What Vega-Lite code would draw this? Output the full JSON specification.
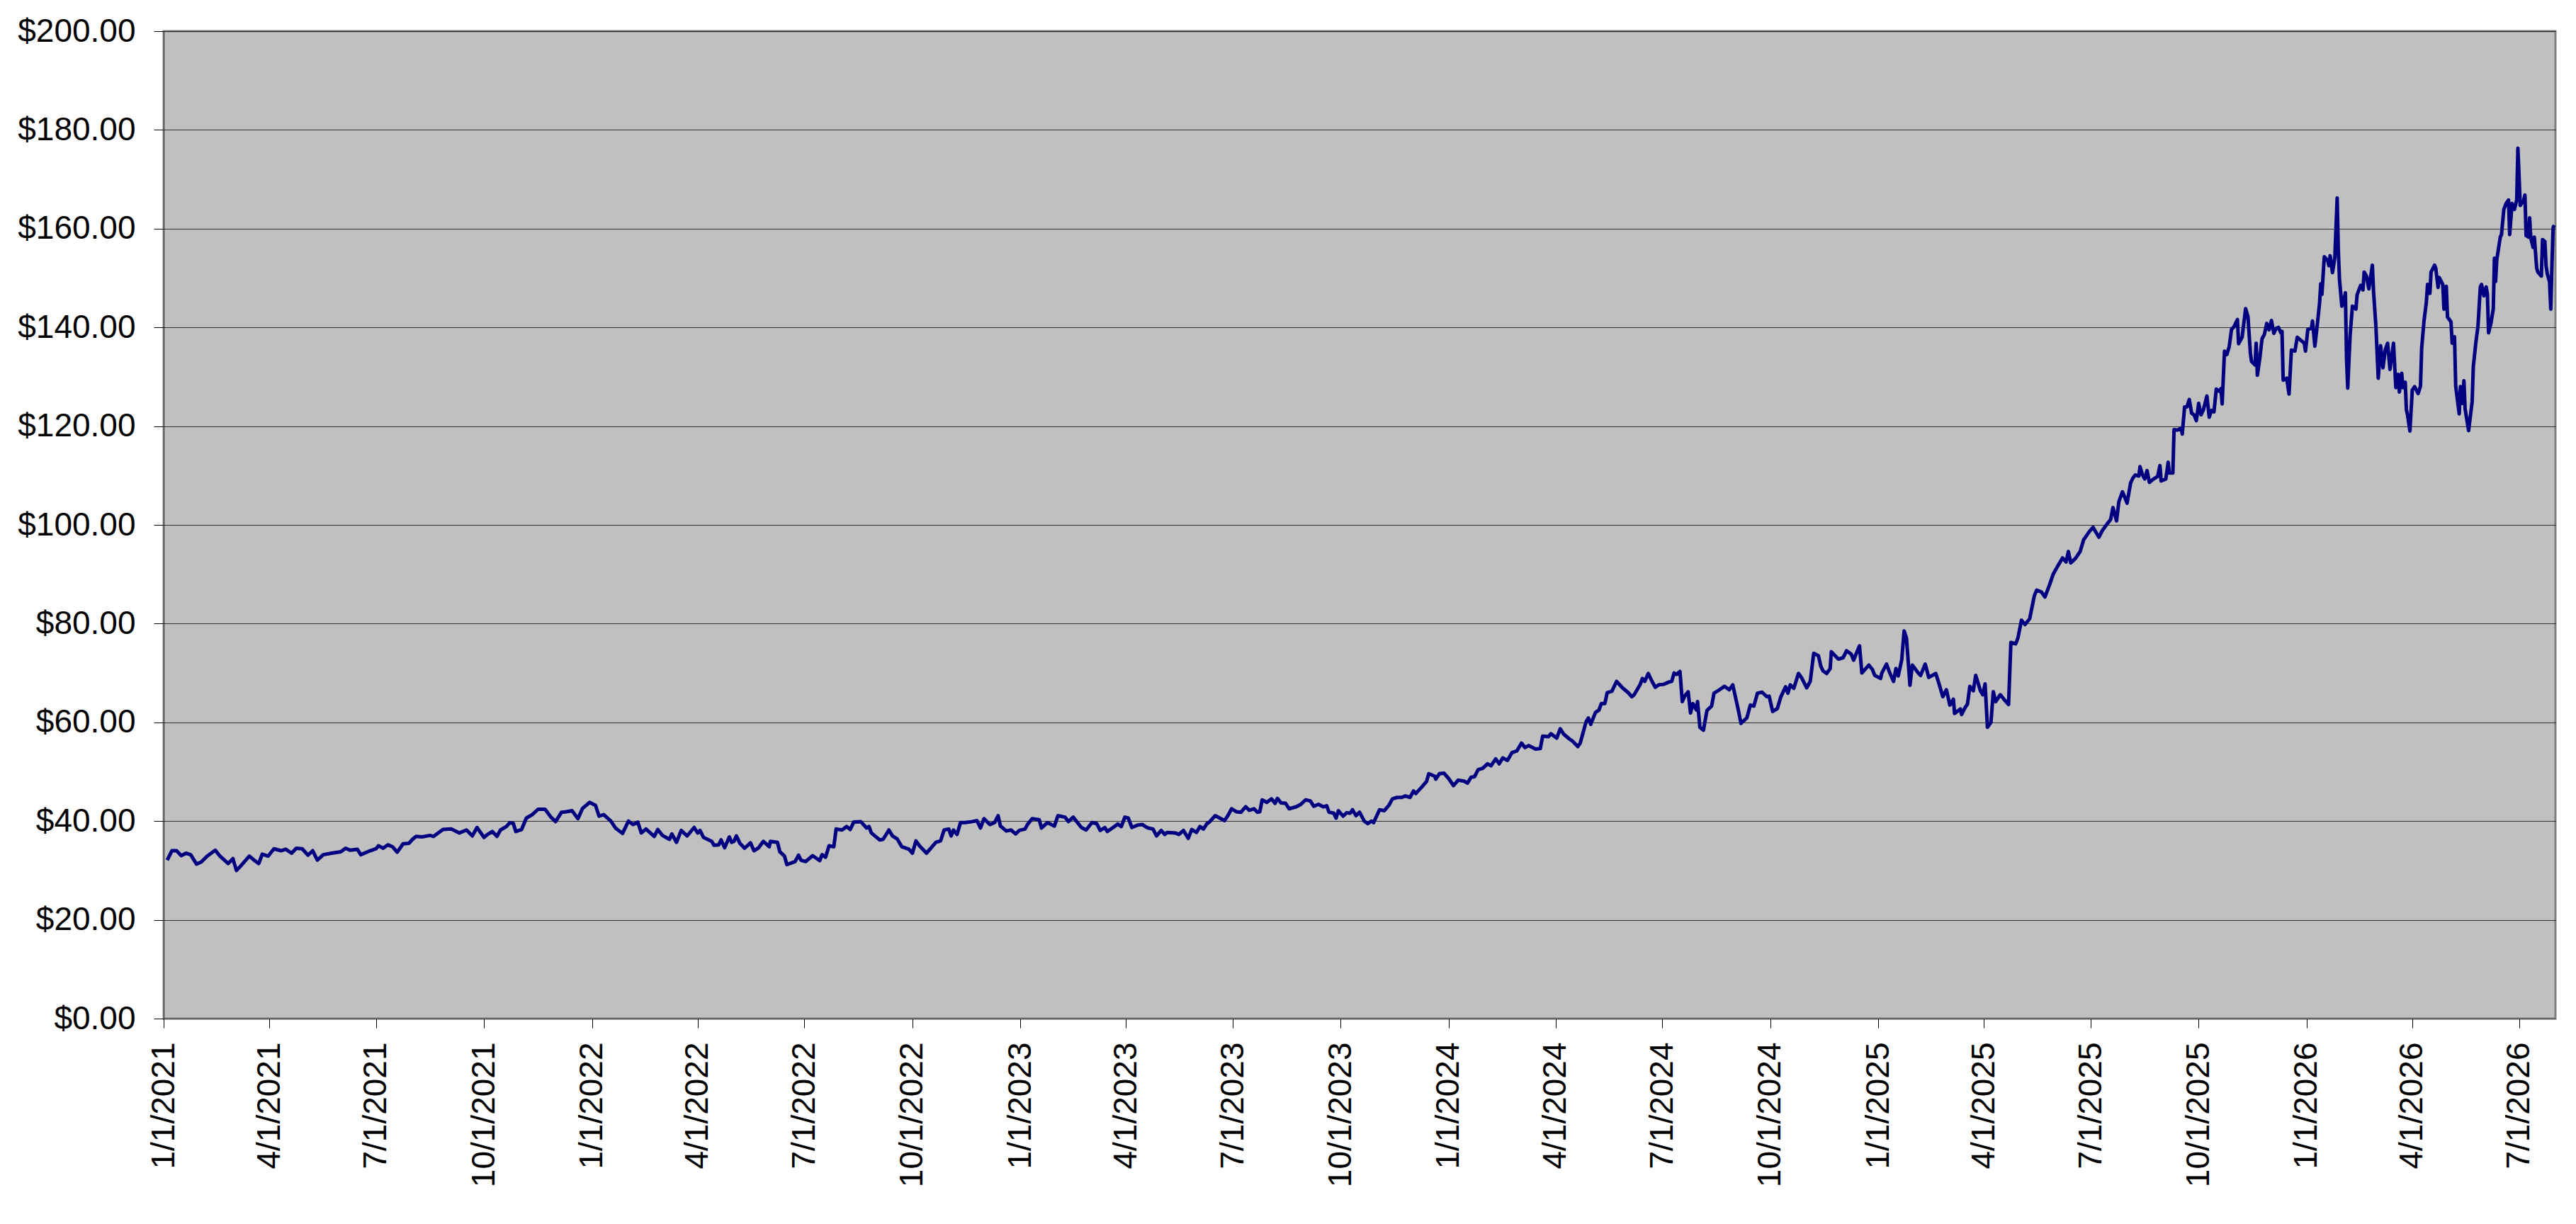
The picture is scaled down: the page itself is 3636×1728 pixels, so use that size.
{
  "$schema": "https://vega.github.io/schema/vega-lite/v6.json",
  "width": 3376,
  "height": 1394,
  "autosize": {"type": "none"},
  "padding": {"left": 231, "top": 44, "right": 29, "bottom": 290},
  "background": "white",
  "config": {
    "font": "Liberation Sans",
    "view": {"fill": "#c0c0c0", "stroke": "#808080", "strokeWidth": 3}
  },
  "data": {
    "values": [
      {"date": "2021-01-04", "price": 32.1}, {"date": "2021-01-08", "price": 34.0}, {"date": "2021-01-12", "price": 34.0},
      {"date": "2021-01-16", "price": 33.0}, {"date": "2021-01-20", "price": 33.5}, {"date": "2021-01-24", "price": 33.2},
      {"date": "2021-01-29", "price": 31.3}, {"date": "2021-02-02", "price": 31.7}, {"date": "2021-02-07", "price": 32.9},
      {"date": "2021-02-14", "price": 34.1}, {"date": "2021-02-18", "price": 32.9}, {"date": "2021-02-25", "price": 31.4},
      {"date": "2021-03-01", "price": 32.4}, {"date": "2021-03-04", "price": 30.0}, {"date": "2021-03-08", "price": 31.0},
      {"date": "2021-03-15", "price": 32.9}, {"date": "2021-03-19", "price": 32.1}, {"date": "2021-03-23", "price": 31.4},
      {"date": "2021-03-26", "price": 33.3}, {"date": "2021-03-31", "price": 32.9}, {"date": "2021-04-05", "price": 34.4},
      {"date": "2021-04-11", "price": 34.0}, {"date": "2021-04-15", "price": 34.3}, {"date": "2021-04-20", "price": 33.5},
      {"date": "2021-04-24", "price": 34.5}, {"date": "2021-04-29", "price": 34.4}, {"date": "2021-05-04", "price": 33.1},
      {"date": "2021-05-08", "price": 34.0}, {"date": "2021-05-12", "price": 32.1}, {"date": "2021-05-17", "price": 33.2},
      {"date": "2021-05-24", "price": 33.5}, {"date": "2021-06-01", "price": 33.8}, {"date": "2021-06-05", "price": 34.5},
      {"date": "2021-06-09", "price": 34.1}, {"date": "2021-06-15", "price": 34.3}, {"date": "2021-06-18", "price": 33.2},
      {"date": "2021-06-26", "price": 34.0}, {"date": "2021-07-01", "price": 34.4}, {"date": "2021-07-03", "price": 35.0},
      {"date": "2021-07-07", "price": 34.5}, {"date": "2021-07-11", "price": 35.2}, {"date": "2021-07-15", "price": 34.8},
      {"date": "2021-07-19", "price": 33.7}, {"date": "2021-07-24", "price": 35.4}, {"date": "2021-07-29", "price": 35.5},
      {"date": "2021-08-01", "price": 36.3}, {"date": "2021-08-04", "price": 36.9}, {"date": "2021-08-09", "price": 36.8},
      {"date": "2021-08-16", "price": 37.1}, {"date": "2021-08-19", "price": 36.9}, {"date": "2021-08-27", "price": 38.3},
      {"date": "2021-09-03", "price": 38.4}, {"date": "2021-09-10", "price": 37.6}, {"date": "2021-09-16", "price": 38.2},
      {"date": "2021-09-21", "price": 37.0}, {"date": "2021-09-25", "price": 38.7}, {"date": "2021-10-01", "price": 36.7},
      {"date": "2021-10-04", "price": 37.3}, {"date": "2021-10-08", "price": 37.9}, {"date": "2021-10-12", "price": 36.9},
      {"date": "2021-10-15", "price": 38.2}, {"date": "2021-10-20", "price": 38.9}, {"date": "2021-10-23", "price": 39.7},
      {"date": "2021-10-26", "price": 39.5}, {"date": "2021-10-28", "price": 37.9}, {"date": "2021-11-02", "price": 38.3},
      {"date": "2021-11-06", "price": 40.6}, {"date": "2021-11-11", "price": 41.3}, {"date": "2021-11-16", "price": 42.4},
      {"date": "2021-11-22", "price": 42.4}, {"date": "2021-11-27", "price": 40.8}, {"date": "2021-12-01", "price": 39.9},
      {"date": "2021-12-06", "price": 41.8}, {"date": "2021-12-10", "price": 41.9}, {"date": "2021-12-15", "price": 42.1},
      {"date": "2021-12-20", "price": 40.5}, {"date": "2021-12-24", "price": 42.6}, {"date": "2021-12-30", "price": 43.8},
      {"date": "2022-01-04", "price": 43.2}, {"date": "2022-01-07", "price": 41.0}, {"date": "2022-01-11", "price": 41.3},
      {"date": "2022-01-17", "price": 40.0}, {"date": "2022-01-21", "price": 38.6}, {"date": "2022-01-27", "price": 37.5},
      {"date": "2022-02-01", "price": 40.0}, {"date": "2022-02-05", "price": 39.3}, {"date": "2022-02-09", "price": 39.8},
      {"date": "2022-02-12", "price": 37.6}, {"date": "2022-02-16", "price": 38.4}, {"date": "2022-02-23", "price": 36.9},
      {"date": "2022-02-26", "price": 38.3}, {"date": "2022-03-02", "price": 37.1}, {"date": "2022-03-08", "price": 36.3},
      {"date": "2022-03-10", "price": 37.4}, {"date": "2022-03-14", "price": 35.7}, {"date": "2022-03-18", "price": 38.1},
      {"date": "2022-03-23", "price": 37.0}, {"date": "2022-03-29", "price": 38.7}, {"date": "2022-04-01", "price": 37.6},
      {"date": "2022-04-03", "price": 38.1}, {"date": "2022-04-06", "price": 36.7}, {"date": "2022-04-13", "price": 35.9},
      {"date": "2022-04-15", "price": 35.1}, {"date": "2022-04-19", "price": 35.2}, {"date": "2022-04-21", "price": 36.2},
      {"date": "2022-04-24", "price": 34.6}, {"date": "2022-04-28", "price": 36.8}, {"date": "2022-04-30", "price": 35.7},
      {"date": "2022-05-02", "price": 35.9}, {"date": "2022-05-04", "price": 37.0}, {"date": "2022-05-07", "price": 35.5},
      {"date": "2022-05-11", "price": 34.5}, {"date": "2022-05-16", "price": 35.6}, {"date": "2022-05-19", "price": 34.0},
      {"date": "2022-05-23", "price": 34.6}, {"date": "2022-05-27", "price": 35.9}, {"date": "2022-06-01", "price": 34.8},
      {"date": "2022-06-02", "price": 35.9}, {"date": "2022-06-08", "price": 35.7}, {"date": "2022-06-10", "price": 33.8},
      {"date": "2022-06-14", "price": 32.9}, {"date": "2022-06-16", "price": 31.2}, {"date": "2022-06-23", "price": 31.8},
      {"date": "2022-06-26", "price": 33.1}, {"date": "2022-06-28", "price": 32.1}, {"date": "2022-07-02", "price": 31.8},
      {"date": "2022-07-08", "price": 33.0}, {"date": "2022-07-14", "price": 32.0}, {"date": "2022-07-16", "price": 33.2},
      {"date": "2022-07-19", "price": 32.7}, {"date": "2022-07-22", "price": 35.0}, {"date": "2022-07-26", "price": 34.8},
      {"date": "2022-07-28", "price": 38.4}, {"date": "2022-08-02", "price": 38.2}, {"date": "2022-08-06", "price": 38.9},
      {"date": "2022-08-09", "price": 38.3}, {"date": "2022-08-12", "price": 39.8}, {"date": "2022-08-18", "price": 39.9},
      {"date": "2022-08-23", "price": 38.6}, {"date": "2022-08-25", "price": 38.9}, {"date": "2022-08-27", "price": 37.6},
      {"date": "2022-09-03", "price": 36.2}, {"date": "2022-09-06", "price": 36.3}, {"date": "2022-09-11", "price": 38.2},
      {"date": "2022-09-14", "price": 37.0}, {"date": "2022-09-18", "price": 36.4}, {"date": "2022-09-22", "price": 34.8},
      {"date": "2022-09-28", "price": 34.3}, {"date": "2022-10-01", "price": 33.5}, {"date": "2022-10-04", "price": 36.0},
      {"date": "2022-10-07", "price": 35.0}, {"date": "2022-10-13", "price": 33.5}, {"date": "2022-10-21", "price": 35.7},
      {"date": "2022-10-25", "price": 36.0}, {"date": "2022-10-28", "price": 38.2}, {"date": "2022-11-01", "price": 38.4},
      {"date": "2022-11-03", "price": 37.0}, {"date": "2022-11-05", "price": 38.2}, {"date": "2022-11-08", "price": 37.3},
      {"date": "2022-11-11", "price": 39.7}, {"date": "2022-11-15", "price": 39.7}, {"date": "2022-11-21", "price": 39.9},
      {"date": "2022-11-25", "price": 40.1}, {"date": "2022-11-28", "price": 38.6}, {"date": "2022-12-01", "price": 40.5},
      {"date": "2022-12-06", "price": 39.3}, {"date": "2022-12-10", "price": 39.7}, {"date": "2022-12-13", "price": 41.1},
      {"date": "2022-12-15", "price": 39.0}, {"date": "2022-12-20", "price": 38.0}, {"date": "2022-12-24", "price": 38.2},
      {"date": "2022-12-28", "price": 37.4}, {"date": "2022-12-31", "price": 38.1}, {"date": "2023-01-05", "price": 38.4},
      {"date": "2023-01-07", "price": 39.3}, {"date": "2023-01-11", "price": 40.5}, {"date": "2023-01-17", "price": 40.3},
      {"date": "2023-01-19", "price": 38.6}, {"date": "2023-01-24", "price": 39.7}, {"date": "2023-01-30", "price": 39.0},
      {"date": "2023-02-02", "price": 41.1}, {"date": "2023-02-08", "price": 40.8}, {"date": "2023-02-11", "price": 39.9},
      {"date": "2023-02-15", "price": 40.8}, {"date": "2023-02-22", "price": 38.7}, {"date": "2023-02-26", "price": 38.2},
      {"date": "2023-03-03", "price": 39.7}, {"date": "2023-03-07", "price": 39.5}, {"date": "2023-03-10", "price": 38.1},
      {"date": "2023-03-14", "price": 38.7}, {"date": "2023-03-16", "price": 37.9}, {"date": "2023-03-21", "price": 38.7},
      {"date": "2023-03-25", "price": 39.4}, {"date": "2023-03-28", "price": 38.9}, {"date": "2023-03-31", "price": 40.8},
      {"date": "2023-04-03", "price": 40.6}, {"date": "2023-04-06", "price": 38.7}, {"date": "2023-04-11", "price": 39.2},
      {"date": "2023-04-15", "price": 39.3}, {"date": "2023-04-19", "price": 38.7}, {"date": "2023-04-20", "price": 38.6},
      {"date": "2023-04-24", "price": 38.4}, {"date": "2023-04-27", "price": 37.0}, {"date": "2023-05-01", "price": 38.1},
      {"date": "2023-05-04", "price": 37.3}, {"date": "2023-05-06", "price": 37.7}, {"date": "2023-05-13", "price": 37.6},
      {"date": "2023-05-16", "price": 37.3}, {"date": "2023-05-20", "price": 38.1}, {"date": "2023-05-24", "price": 36.5},
      {"date": "2023-05-27", "price": 38.3}, {"date": "2023-05-31", "price": 37.7}, {"date": "2023-06-03", "price": 38.9},
      {"date": "2023-06-06", "price": 38.4}, {"date": "2023-06-09", "price": 39.5}, {"date": "2023-06-11", "price": 39.8},
      {"date": "2023-06-16", "price": 41.1}, {"date": "2023-06-20", "price": 40.6}, {"date": "2023-06-24", "price": 40.1},
      {"date": "2023-06-27", "price": 41.2}, {"date": "2023-06-30", "price": 42.5}, {"date": "2023-07-04", "price": 41.9},
      {"date": "2023-07-08", "price": 41.8}, {"date": "2023-07-12", "price": 42.9}, {"date": "2023-07-15", "price": 42.2},
      {"date": "2023-07-19", "price": 42.5}, {"date": "2023-07-22", "price": 41.8}, {"date": "2023-07-24", "price": 41.9},
      {"date": "2023-07-26", "price": 44.3}, {"date": "2023-07-30", "price": 43.8}, {"date": "2023-08-03", "price": 44.5},
      {"date": "2023-08-06", "price": 43.6}, {"date": "2023-08-08", "price": 44.6}, {"date": "2023-08-11", "price": 43.7},
      {"date": "2023-08-15", "price": 43.6}, {"date": "2023-08-18", "price": 42.5}, {"date": "2023-08-24", "price": 42.9},
      {"date": "2023-08-28", "price": 43.4}, {"date": "2023-09-01", "price": 44.3}, {"date": "2023-09-05", "price": 44.1},
      {"date": "2023-09-08", "price": 43.0}, {"date": "2023-09-12", "price": 43.4}, {"date": "2023-09-16", "price": 42.9},
      {"date": "2023-09-19", "price": 43.1}, {"date": "2023-09-21", "price": 41.8}, {"date": "2023-09-25", "price": 41.6},
      {"date": "2023-09-27", "price": 40.6}, {"date": "2023-09-29", "price": 42.1}, {"date": "2023-10-03", "price": 41.0},
      {"date": "2023-10-06", "price": 41.7}, {"date": "2023-10-09", "price": 41.6}, {"date": "2023-10-11", "price": 42.3},
      {"date": "2023-10-14", "price": 41.1}, {"date": "2023-10-17", "price": 41.8}, {"date": "2023-10-21", "price": 40.0},
      {"date": "2023-10-24", "price": 39.5}, {"date": "2023-10-27", "price": 40.0}, {"date": "2023-10-29", "price": 39.7},
      {"date": "2023-11-03", "price": 42.3}, {"date": "2023-11-07", "price": 42.1}, {"date": "2023-11-11", "price": 43.2},
      {"date": "2023-11-14", "price": 44.5}, {"date": "2023-11-18", "price": 44.8}, {"date": "2023-11-22", "price": 44.8},
      {"date": "2023-11-25", "price": 45.1}, {"date": "2023-11-29", "price": 44.8}, {"date": "2023-12-02", "price": 46.1},
      {"date": "2023-12-04", "price": 45.6}, {"date": "2023-12-09", "price": 46.9}, {"date": "2023-12-13", "price": 48.0},
      {"date": "2023-12-15", "price": 49.6}, {"date": "2023-12-20", "price": 49.1}, {"date": "2023-12-21", "price": 48.5},
      {"date": "2023-12-24", "price": 49.6}, {"date": "2023-12-28", "price": 49.7}, {"date": "2024-01-01", "price": 48.6},
      {"date": "2024-01-05", "price": 47.2}, {"date": "2024-01-09", "price": 48.3}, {"date": "2024-01-14", "price": 48.1},
      {"date": "2024-01-17", "price": 47.7}, {"date": "2024-01-20", "price": 48.9}, {"date": "2024-01-23", "price": 49.0},
      {"date": "2024-01-26", "price": 50.4}, {"date": "2024-01-30", "price": 50.7}, {"date": "2024-02-03", "price": 51.6},
      {"date": "2024-02-06", "price": 51.2}, {"date": "2024-02-10", "price": 52.6}, {"date": "2024-02-13", "price": 51.6},
      {"date": "2024-02-16", "price": 52.8}, {"date": "2024-02-20", "price": 52.3}, {"date": "2024-02-24", "price": 53.9},
      {"date": "2024-02-28", "price": 54.2}, {"date": "2024-03-03", "price": 55.8}, {"date": "2024-03-06", "price": 54.9},
      {"date": "2024-03-09", "price": 55.3}, {"date": "2024-03-15", "price": 54.6}, {"date": "2024-03-19", "price": 54.7},
      {"date": "2024-03-21", "price": 57.2}, {"date": "2024-03-26", "price": 57.1}, {"date": "2024-03-28", "price": 57.7},
      {"date": "2024-04-02", "price": 56.8}, {"date": "2024-04-05", "price": 58.7}, {"date": "2024-04-08", "price": 57.6},
      {"date": "2024-04-13", "price": 56.6}, {"date": "2024-04-15", "price": 56.3}, {"date": "2024-04-20", "price": 55.1},
      {"date": "2024-04-22", "price": 55.8}, {"date": "2024-04-27", "price": 60.1}, {"date": "2024-04-29", "price": 60.9},
      {"date": "2024-05-01", "price": 59.6}, {"date": "2024-05-05", "price": 62.0}, {"date": "2024-05-08", "price": 62.5},
      {"date": "2024-05-10", "price": 63.8}, {"date": "2024-05-13", "price": 63.8}, {"date": "2024-05-15", "price": 66.0},
      {"date": "2024-05-19", "price": 66.3}, {"date": "2024-05-23", "price": 68.3}, {"date": "2024-05-28", "price": 67.0},
      {"date": "2024-06-02", "price": 66.0}, {"date": "2024-06-05", "price": 65.2}, {"date": "2024-06-07", "price": 65.6},
      {"date": "2024-06-12", "price": 67.6}, {"date": "2024-06-14", "price": 68.9}, {"date": "2024-06-16", "price": 68.3},
      {"date": "2024-06-19", "price": 69.9}, {"date": "2024-06-22", "price": 68.4}, {"date": "2024-06-25", "price": 67.1},
      {"date": "2024-06-28", "price": 67.6}, {"date": "2024-07-02", "price": 67.7}, {"date": "2024-07-07", "price": 68.2},
      {"date": "2024-07-09", "price": 68.3}, {"date": "2024-07-11", "price": 70.0}, {"date": "2024-07-13", "price": 69.7},
      {"date": "2024-07-16", "price": 70.3}, {"date": "2024-07-18", "price": 64.2}, {"date": "2024-07-20", "price": 65.3},
      {"date": "2024-07-23", "price": 66.2}, {"date": "2024-07-25", "price": 61.9}, {"date": "2024-07-27", "price": 63.8},
      {"date": "2024-07-30", "price": 62.5}, {"date": "2024-07-31", "price": 64.2}, {"date": "2024-08-02", "price": 59.0},
      {"date": "2024-08-05", "price": 58.4}, {"date": "2024-08-08", "price": 62.4}, {"date": "2024-08-12", "price": 63.3},
      {"date": "2024-08-14", "price": 65.9}, {"date": "2024-08-18", "price": 66.5}, {"date": "2024-08-23", "price": 67.3},
      {"date": "2024-08-27", "price": 66.6}, {"date": "2024-08-30", "price": 67.6}, {"date": "2024-09-04", "price": 62.2},
      {"date": "2024-09-06", "price": 59.8}, {"date": "2024-09-11", "price": 60.9}, {"date": "2024-09-14", "price": 63.5},
      {"date": "2024-09-17", "price": 63.3}, {"date": "2024-09-20", "price": 65.9}, {"date": "2024-09-24", "price": 66.1},
      {"date": "2024-09-28", "price": 65.2}, {"date": "2024-09-30", "price": 65.3}, {"date": "2024-10-03", "price": 62.2},
      {"date": "2024-10-07", "price": 62.8}, {"date": "2024-10-10", "price": 65.2}, {"date": "2024-10-14", "price": 67.2},
      {"date": "2024-10-16", "price": 65.9}, {"date": "2024-10-18", "price": 67.6}, {"date": "2024-10-21", "price": 66.9},
      {"date": "2024-10-25", "price": 69.9}, {"date": "2024-10-28", "price": 68.9}, {"date": "2024-11-01", "price": 67.0},
      {"date": "2024-11-04", "price": 68.3}, {"date": "2024-11-07", "price": 74.0}, {"date": "2024-11-11", "price": 73.5},
      {"date": "2024-11-13", "price": 71.4}, {"date": "2024-11-15", "price": 70.4}, {"date": "2024-11-18", "price": 69.9},
      {"date": "2024-11-21", "price": 70.9}, {"date": "2024-11-22", "price": 74.3}, {"date": "2024-11-28", "price": 72.8},
      {"date": "2024-12-02", "price": 73.1}, {"date": "2024-12-05", "price": 74.5}, {"date": "2024-12-09", "price": 73.8},
      {"date": "2024-12-11", "price": 72.6}, {"date": "2024-12-13", "price": 73.8}, {"date": "2024-12-16", "price": 75.5},
      {"date": "2024-12-18", "price": 70.0}, {"date": "2024-12-24", "price": 71.6}, {"date": "2024-12-27", "price": 70.7},
      {"date": "2024-12-29", "price": 69.5}, {"date": "2025-01-03", "price": 68.9}, {"date": "2025-01-04", "price": 70.0},
      {"date": "2025-01-08", "price": 71.8}, {"date": "2025-01-11", "price": 69.9}, {"date": "2025-01-14", "price": 68.3},
      {"date": "2025-01-16", "price": 70.9}, {"date": "2025-01-18", "price": 69.4}, {"date": "2025-01-21", "price": 72.7},
      {"date": "2025-01-23", "price": 78.5}, {"date": "2025-01-25", "price": 77.1}, {"date": "2025-01-28", "price": 67.5},
      {"date": "2025-01-30", "price": 71.6}, {"date": "2025-02-04", "price": 70.0}, {"date": "2025-02-06", "price": 69.5},
      {"date": "2025-02-10", "price": 71.8}, {"date": "2025-02-13", "price": 69.1}, {"date": "2025-02-19", "price": 69.9},
      {"date": "2025-02-22", "price": 67.6}, {"date": "2025-02-25", "price": 65.2}, {"date": "2025-02-28", "price": 66.6},
      {"date": "2025-03-03", "price": 63.5}, {"date": "2025-03-06", "price": 64.7}, {"date": "2025-03-07", "price": 61.8},
      {"date": "2025-03-12", "price": 62.7}, {"date": "2025-03-13", "price": 61.6}, {"date": "2025-03-16", "price": 63.0},
      {"date": "2025-03-18", "price": 63.7}, {"date": "2025-03-20", "price": 67.3}, {"date": "2025-03-23", "price": 66.4},
      {"date": "2025-03-25", "price": 69.5}, {"date": "2025-03-27", "price": 68.0}, {"date": "2025-03-29", "price": 66.4},
      {"date": "2025-03-31", "price": 65.6}, {"date": "2025-04-02", "price": 67.8}, {"date": "2025-04-04", "price": 59.0},
      {"date": "2025-04-07", "price": 60.0}, {"date": "2025-04-09", "price": 66.2}, {"date": "2025-04-11", "price": 64.2},
      {"date": "2025-04-15", "price": 65.6}, {"date": "2025-04-18", "price": 64.7}, {"date": "2025-04-22", "price": 63.6},
      {"date": "2025-04-24", "price": 76.2}, {"date": "2025-04-28", "price": 75.9}, {"date": "2025-04-30", "price": 77.1},
      {"date": "2025-05-03", "price": 80.7}, {"date": "2025-05-06", "price": 79.8}, {"date": "2025-05-10", "price": 81.0},
      {"date": "2025-05-14", "price": 85.7}, {"date": "2025-05-16", "price": 86.8}, {"date": "2025-05-20", "price": 86.4},
      {"date": "2025-05-23", "price": 85.4}, {"date": "2025-05-27", "price": 87.9}, {"date": "2025-05-30", "price": 90.0},
      {"date": "2025-06-03", "price": 91.7}, {"date": "2025-06-07", "price": 93.3}, {"date": "2025-06-10", "price": 92.5},
      {"date": "2025-06-12", "price": 94.6}, {"date": "2025-06-14", "price": 92.3}, {"date": "2025-06-18", "price": 93.2},
      {"date": "2025-06-22", "price": 94.6}, {"date": "2025-06-25", "price": 97.0}, {"date": "2025-06-30", "price": 98.7},
      {"date": "2025-07-03", "price": 99.5}, {"date": "2025-07-08", "price": 97.5}, {"date": "2025-07-11", "price": 98.9},
      {"date": "2025-07-15", "price": 100.2}, {"date": "2025-07-18", "price": 101.1}, {"date": "2025-07-20", "price": 103.5},
      {"date": "2025-07-23", "price": 100.8}, {"date": "2025-07-25", "price": 104.7}, {"date": "2025-07-28", "price": 106.7},
      {"date": "2025-07-30", "price": 105.6}, {"date": "2025-08-01", "price": 104.4}, {"date": "2025-08-04", "price": 108.5},
      {"date": "2025-08-06", "price": 109.5}, {"date": "2025-08-08", "price": 110.1}, {"date": "2025-08-11", "price": 109.9},
      {"date": "2025-08-12", "price": 111.8}, {"date": "2025-08-14", "price": 110.2}, {"date": "2025-08-16", "price": 109.3},
      {"date": "2025-08-18", "price": 111.0}, {"date": "2025-08-20", "price": 108.6}, {"date": "2025-08-23", "price": 109.2},
      {"date": "2025-08-27", "price": 109.8}, {"date": "2025-08-29", "price": 112.0}, {"date": "2025-08-30", "price": 108.9},
      {"date": "2025-09-03", "price": 109.3}, {"date": "2025-09-05", "price": 112.7}, {"date": "2025-09-06", "price": 110.5},
      {"date": "2025-09-09", "price": 110.5}, {"date": "2025-09-10", "price": 119.3}, {"date": "2025-09-13", "price": 119.2},
      {"date": "2025-09-16", "price": 119.6}, {"date": "2025-09-17", "price": 118.4}, {"date": "2025-09-19", "price": 123.9},
      {"date": "2025-09-21", "price": 123.9}, {"date": "2025-09-23", "price": 125.4}, {"date": "2025-09-25", "price": 122.6},
      {"date": "2025-09-27", "price": 122.3}, {"date": "2025-09-29", "price": 121.1}, {"date": "2025-10-01", "price": 124.6},
      {"date": "2025-10-03", "price": 122.3}, {"date": "2025-10-05", "price": 123.3}, {"date": "2025-10-08", "price": 126.1},
      {"date": "2025-10-10", "price": 121.8}, {"date": "2025-10-12", "price": 123.2}, {"date": "2025-10-14", "price": 122.9},
      {"date": "2025-10-16", "price": 127.5}, {"date": "2025-10-19", "price": 127.0}, {"date": "2025-10-20", "price": 127.6},
      {"date": "2025-10-21", "price": 124.5}, {"date": "2025-10-23", "price": 135.2}, {"date": "2025-10-25", "price": 134.5},
      {"date": "2025-10-27", "price": 136.1}, {"date": "2025-10-29", "price": 139.6}, {"date": "2025-10-31", "price": 140.1},
      {"date": "2025-11-03", "price": 141.6}, {"date": "2025-11-04", "price": 136.7}, {"date": "2025-11-07", "price": 138.0},
      {"date": "2025-11-09", "price": 141.9}, {"date": "2025-11-10", "price": 143.8}, {"date": "2025-11-12", "price": 142.2},
      {"date": "2025-11-14", "price": 134.9}, {"date": "2025-11-15", "price": 133.1}, {"date": "2025-11-18", "price": 132.4},
      {"date": "2025-11-19", "price": 136.8}, {"date": "2025-11-20", "price": 130.3}, {"date": "2025-11-22", "price": 133.6},
      {"date": "2025-11-24", "price": 137.7}, {"date": "2025-11-26", "price": 138.6}, {"date": "2025-11-28", "price": 140.8},
      {"date": "2025-11-30", "price": 139.5}, {"date": "2025-12-02", "price": 141.4}, {"date": "2025-12-04", "price": 138.8},
      {"date": "2025-12-06", "price": 139.8}, {"date": "2025-12-08", "price": 140.0}, {"date": "2025-12-10", "price": 138.9},
      {"date": "2025-12-11", "price": 139.2}, {"date": "2025-12-12", "price": 129.3}, {"date": "2025-12-15", "price": 129.7},
      {"date": "2025-12-17", "price": 126.5}, {"date": "2025-12-19", "price": 135.4}, {"date": "2025-12-22", "price": 135.2},
      {"date": "2025-12-24", "price": 138.0}, {"date": "2025-12-27", "price": 137.4}, {"date": "2025-12-30", "price": 136.8},
      {"date": "2025-12-31", "price": 135.2}, {"date": "2026-01-02", "price": 139.6}, {"date": "2026-01-05", "price": 139.8},
      {"date": "2026-01-06", "price": 141.3}, {"date": "2026-01-08", "price": 136.2}, {"date": "2026-01-10", "price": 140.4},
      {"date": "2026-01-12", "price": 144.9}, {"date": "2026-01-13", "price": 148.8}, {"date": "2026-01-14", "price": 146.7},
      {"date": "2026-01-16", "price": 154.3}, {"date": "2026-01-19", "price": 153.5}, {"date": "2026-01-20", "price": 152.5},
      {"date": "2026-01-21", "price": 154.5}, {"date": "2026-01-23", "price": 151.1}, {"date": "2026-01-25", "price": 154.1},
      {"date": "2026-01-27", "price": 166.2}, {"date": "2026-01-28", "price": 155.6}, {"date": "2026-01-29", "price": 149.6},
      {"date": "2026-01-31", "price": 144.3}, {"date": "2026-02-01", "price": 144.8}, {"date": "2026-02-03", "price": 147.0},
      {"date": "2026-02-04", "price": 133.6}, {"date": "2026-02-05", "price": 127.7}, {"date": "2026-02-07", "price": 138.3},
      {"date": "2026-02-09", "price": 144.3}, {"date": "2026-02-12", "price": 143.7}, {"date": "2026-02-13", "price": 146.6},
      {"date": "2026-02-16", "price": 148.5}, {"date": "2026-02-18", "price": 147.6}, {"date": "2026-02-19", "price": 151.2},
      {"date": "2026-02-21", "price": 150.4}, {"date": "2026-02-23", "price": 147.8}, {"date": "2026-02-26", "price": 152.6},
      {"date": "2026-02-27", "price": 147.2}, {"date": "2026-03-01", "price": 140.3}, {"date": "2026-03-03", "price": 129.7},
      {"date": "2026-03-05", "price": 136.3}, {"date": "2026-03-07", "price": 131.8}, {"date": "2026-03-09", "price": 135.5},
      {"date": "2026-03-11", "price": 136.8}, {"date": "2026-03-13", "price": 131.5}, {"date": "2026-03-16", "price": 136.8},
      {"date": "2026-03-18", "price": 127.8}, {"date": "2026-03-20", "price": 130.5}, {"date": "2026-03-21", "price": 126.9},
      {"date": "2026-03-23", "price": 130.7}, {"date": "2026-03-24", "price": 127.8}, {"date": "2026-03-26", "price": 128.9},
      {"date": "2026-03-27", "price": 123.3}, {"date": "2026-03-28", "price": 122.2}, {"date": "2026-03-30", "price": 119.0},
      {"date": "2026-04-01", "price": 127.3}, {"date": "2026-04-03", "price": 128.0}, {"date": "2026-04-06", "price": 126.6},
      {"date": "2026-04-08", "price": 128.1}, {"date": "2026-04-09", "price": 135.8}, {"date": "2026-04-11", "price": 141.3},
      {"date": "2026-04-13", "price": 145.1}, {"date": "2026-04-14", "price": 148.7}, {"date": "2026-04-16", "price": 146.9},
      {"date": "2026-04-17", "price": 151.2}, {"date": "2026-04-20", "price": 152.6}, {"date": "2026-04-21", "price": 152.0},
      {"date": "2026-04-23", "price": 148.1}, {"date": "2026-04-24", "price": 150.1}, {"date": "2026-04-27", "price": 148.7},
      {"date": "2026-04-28", "price": 143.7}, {"date": "2026-04-30", "price": 148.3}, {"date": "2026-05-01", "price": 142.1},
      {"date": "2026-05-04", "price": 141.1}, {"date": "2026-05-05", "price": 136.8}, {"date": "2026-05-07", "price": 138.1},
      {"date": "2026-05-08", "price": 128.1}, {"date": "2026-05-11", "price": 122.5}, {"date": "2026-05-12", "price": 128.0},
      {"date": "2026-05-14", "price": 124.6}, {"date": "2026-05-15", "price": 129.2}, {"date": "2026-05-16", "price": 123.5},
      {"date": "2026-05-19", "price": 119.1}, {"date": "2026-05-22", "price": 124.9}, {"date": "2026-05-23", "price": 132.0},
      {"date": "2026-05-25", "price": 136.6}, {"date": "2026-05-27", "price": 140.3}, {"date": "2026-05-29", "price": 148.2},
      {"date": "2026-05-30", "price": 148.7}, {"date": "2026-06-01", "price": 146.4}, {"date": "2026-06-03", "price": 148.2},
      {"date": "2026-06-04", "price": 146.8}, {"date": "2026-06-05", "price": 138.9}, {"date": "2026-06-07", "price": 140.8},
      {"date": "2026-06-09", "price": 143.7}, {"date": "2026-06-10", "price": 154.0}, {"date": "2026-06-11", "price": 149.3},
      {"date": "2026-06-12", "price": 153.7}, {"date": "2026-06-15", "price": 158.3}, {"date": "2026-06-16", "price": 158.8},
      {"date": "2026-06-18", "price": 163.9}, {"date": "2026-06-20", "price": 165.1}, {"date": "2026-06-22", "price": 165.8},
      {"date": "2026-06-23", "price": 158.8}, {"date": "2026-06-25", "price": 165.1}, {"date": "2026-06-27", "price": 163.9},
      {"date": "2026-06-29", "price": 165.8}, {"date": "2026-06-30", "price": 176.3}, {"date": "2026-07-02", "price": 164.7},
      {"date": "2026-07-05", "price": 165.8}, {"date": "2026-07-06", "price": 166.8}, {"date": "2026-07-07", "price": 158.6},
      {"date": "2026-07-09", "price": 158.3}, {"date": "2026-07-10", "price": 162.2}, {"date": "2026-07-11", "price": 158.1},
      {"date": "2026-07-13", "price": 156.2}, {"date": "2026-07-14", "price": 158.3}, {"date": "2026-07-16", "price": 152.0},
      {"date": "2026-07-17", "price": 151.2}, {"date": "2026-07-20", "price": 150.4}, {"date": "2026-07-21", "price": 157.8},
      {"date": "2026-07-23", "price": 157.4}, {"date": "2026-07-24", "price": 152.5}, {"date": "2026-07-25", "price": 150.9},
      {"date": "2026-07-27", "price": 149.2}, {"date": "2026-07-28", "price": 143.7}, {"date": "2026-07-29", "price": 152.5},
      {"date": "2026-07-30", "price": 160.2}, {"date": "2026-07-31", "price": 160.7}
    ]
  },
  "mark": {"type": "line", "color": "#000080", "strokeWidth": 5, "strokeJoin": "round"},
  "encoding": {
    "x": {
      "field": "date",
      "type": "temporal",
      "scale": {"type": "utc", "domain": [1609459200000, 1785542400000]},
      "axis": {
        "title": null,
        "labelExpr": "utcFormat(datum.value, '%-m/%-d/%Y')",
        "tickCount": {"interval": "month", "step": 3},
        "labelAngle": -90,
        "labelFontSize": 46,
        "labelColor": "#000000",
        "labelPadding": 20,
        "labelLimit": 0,
        "labelOverlap": false,
        "labelFlush": false,
        "labelBound": false,
        "tickSize": 13,
        "tickColor": "#000000",
        "tickWidth": 1,
        "domainColor": "#404040",
        "domainWidth": 1,
        "grid": false
      }
    },
    "y": {
      "field": "price",
      "type": "quantitative",
      "scale": {"domain": [0, 200], "nice": false, "zero": true},
      "axis": {
        "title": null,
        "format": "$.2f",
        "values": [0, 20, 40, 60, 80, 100, 120, 140, 160, 180, 200],
        "labelFontSize": 46,
        "labelColor": "#000000",
        "labelPadding": 26,
        "labelLimit": 0,
        "labelOverlap": false,
        "labelFlush": false,
        "labelBound": false,
        "tickSize": 14,
        "tickColor": "#000000",
        "tickWidth": 1,
        "domainColor": "#404040",
        "domainWidth": 1,
        "grid": true,
        "gridColor": "#000000",
        "gridWidth": 1,
        "gridOpacity": 0.75
      }
    }
  }
}
